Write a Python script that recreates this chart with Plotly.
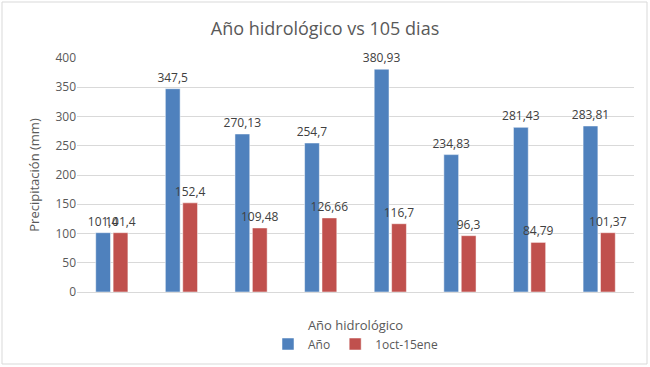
import plotly.graph_objects as go

categories = ["1", "2", "3", "4", "5", "6", "7", "8"]
ano = [101.4, 347.5, 270.13, 254.7, 380.93, 234.83, 281.43, 283.81]
oct_ene = [101.4, 152.4, 109.48, 126.66, 116.7, 96.3, 84.79, 101.37]
y_ticks = [0, 50, 100, 150, 200, 250, 300, 350, 400]

def fmt(v):
    s = ("%.2f" % v).rstrip("0").rstrip(".")
    return s.replace(".", ",")

FONT = "Open Sans"
TXT = "#595959"

fig = go.Figure()
fig.add_trace(go.Bar(
    name="Año", x=categories, y=ano,
    marker=dict(color="#4F81BD", line=dict(color="white", width=0.5)),
    text=[fmt(v) for v in ano], textposition="outside", cliponaxis=False,
    constraintext="none",
    textfont=dict(family=FONT, size=12, color="#404040"),
))
fig.add_trace(go.Bar(
    name="1oct-15ene", x=categories, y=oct_ene,
    marker=dict(color="#C0504D", line=dict(color="white", width=0.5)),
    text=[fmt(v) for v in oct_ene], textposition="outside", cliponaxis=False,
    constraintext="none",
    textfont=dict(family=FONT, size=12, color="#404040"),
))

W, H = 650, 367
ml, mr, mt, mb = 77, 16, 58, 75
pw, ph = W - ml - mr, H - mt - mb

def px(x):
    return (x - ml) / pw

def py(y):
    return (H - mb - y) / ph

fig.update_layout(
    width=W, height=H,
    margin=dict(l=ml, r=mr, t=mt, b=mb, autoexpand=False),
    paper_bgcolor="white", plot_bgcolor="white",
    font=dict(family=FONT, color=TXT),
    title=dict(text="Año hidrológico vs 105 dias", x=0.5, xanchor="center",
               y=1 - 29 / H, yanchor="middle",
               font=dict(family=FONT, size=18, color=TXT)),
    barmode="group", bargap=0.5, bargroupgap=0.15,
    showlegend=True,
    legend=dict(orientation="h", x=0.5, xanchor="center", y=py(344), yanchor="middle",
                font=dict(family=FONT, size=12, color=TXT), itemwidth=30,
                traceorder="normal"),
    shapes=[dict(type="rect", xref="paper", yref="paper",
                 x0=px(2), x1=px(647), y0=py(364), y1=py(2),
                 line=dict(color="#D9D9D9", width=1), fillcolor="rgba(0,0,0,0)",
                 layer="below")],
)
fig.update_xaxes(showticklabels=False, showgrid=False, zeroline=False,
                 showline=True, linecolor="#D9D9D9", ticks="",
                 title=dict(text="Año hidrológico", standoff=28,
                            font=dict(family=FONT, size=13, color=TXT)))
fig.update_yaxes(range=[0, 400], tickvals=y_ticks, showgrid=True, gridcolor="#D9D9D9",
                 zeroline=False, showline=False, ticks="",
                 tickfont=dict(family=FONT, size=12, color=TXT),
                 title=dict(text="Precipitación (mm)", standoff=12,
                            font=dict(family=FONT, size=13, color=TXT)))

fig.write_html("out.html", config={"displayModeBar": False},
               post_script="document.body.style.margin='0';")
